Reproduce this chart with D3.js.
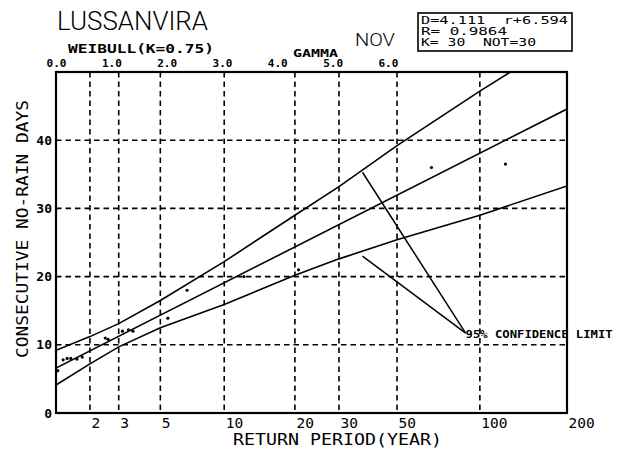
<!DOCTYPE html>
<html>
<head>
<meta charset="utf-8">
<script src="https://cdn.jsdelivr.net/npm/d3@7"></script>
<style>
  html, body { margin: 0; padding: 0; background: #fff; }
  svg { display: block; }
  text { font-family: "DejaVu Sans Mono", monospace; fill: #000; }
</style>
</head>
<body>
<svg id="chart" width="626" height="455"></svg>
<script>
// Return periods (years) marked on the lower axis and drawn as grid lines
const gridPeriods = [2, 3, 5, 10, 20, 30, 50, 100];
const bottomTickLabels = [2, 3, 5, 10, 20, 30, 50, 100, 200];
// Weibull reduced variate ticks on the upper axis
const topTicks = [0, 1, 2, 3, 4, 5, 6];
// Value axis ticks (days)
const valueTicks = [0, 10, 20, 30, 40];
const valueGrid = [10, 20, 30, 40];

// Observed consecutive no-rain days at their plotting return periods
const obsPeriods = [1.08, 1.24, 1.35, 1.45, 1.62, 1.77, 2.5, 2.6, 3.15, 3.4, 3.6, 5.45, 6.75, 12.2, 20.7, 67, 123];
const obsDays    = [6.2, 7.8, 8.0, 8.0, 7.9, 8.2, 11.0, 10.8, 12.0, 12.2, 12.0, 13.9, 18.0, 20.0, 21.0, 36.0, 36.5];

// Fitted Weibull line parameters (slope and location on the reduced variate)
const fitSlope = 4.111;
const fitLocation = 6.594;
const fitCorr = 0.9864;
const fitPeriods = [1, 200];

// 95% confidence limits
const upperPeriods = [1, 2, 3, 5, 10, 20, 30, 50, 100, 128];
const upperDays    = [9.2, 11.2, 13.1, 16.5, 22.2, 29.0, 33.2, 39.2, 47.2, 50.0];
const lowerPeriods = [1, 2, 3, 5, 10, 20, 30, 50, 100, 200];
const lowerDays    = [4.1, 7.2, 9.7, 12.5, 15.9, 20.2, 22.6, 25.4, 29.0, 33.3];

// Leader lines of the confidence-limit note: [period, days]
const noteAnchor = [89, 11.7];
const noteTargets = [[37, 35.3], [37, 23.0]];

const K = 0.75;
const reduced = T => Math.pow(Math.log(T), 1 / K);

const svg = d3.select("#chart");
const plotLeft = 56, plotRight = 567, plotTop = 72, plotBottom = 413;

const x = d3.scaleLinear().domain([0, reduced(200)]).range([plotLeft, plotRight]);
const y = d3.scaleLinear().domain([0, 50]).range([plotBottom, plotTop]);
const xT = T => x(reduced(T));

// Grid
const grid = svg.append("g")
  .attr("stroke", "#000").attr("stroke-width", 1.6).attr("stroke-dasharray", "5.5,4");
grid.selectAll("line.v").data(gridPeriods).join("line").attr("class", "v")
  .attr("x1", d => xT(d)).attr("x2", d => xT(d)).attr("y1", plotTop).attr("y2", plotBottom);
grid.selectAll("line.h").data(valueGrid).join("line").attr("class", "h")
  .attr("x1", plotLeft).attr("x2", plotRight).attr("y1", d => y(d)).attr("y2", d => y(d));

// Axes
const bottomAxis = d3.axisBottom(x)
  .tickValues(bottomTickLabels.map(reduced))
  .tickFormat((d, i) => bottomTickLabels[i])
  .tickSize(0).tickPadding(5);
const gB = svg.append("g").attr("transform", `translate(0,${plotBottom})`).call(bottomAxis);
gB.select(".domain").remove();
gB.selectAll("text").attr("text-anchor", "start").attr("dx", 1)
  .style("font-size", "14.5px").style("font-family", "DejaVu Sans Mono");

const topAxis = d3.axisTop(x).tickValues(topTicks).tickFormat(d3.format(".1f"))
  .tickSize(0).tickPadding(5);
const gT = svg.append("g").attr("transform", `translate(0,${plotTop})`).call(topAxis);
gT.select(".domain").remove();
gT.selectAll("text").style("font-size", "11px").style("font-family", "DejaVu Sans Mono")
  .style("font-weight", "bold");

const leftAxis = d3.axisLeft(y).tickValues(valueTicks).tickSize(0).tickPadding(4);
const gL = svg.append("g").attr("transform", `translate(${plotLeft},0)`).call(leftAxis);
gL.select(".domain").remove();
gL.selectAll("text").style("font-size", "13px").style("font-family", "DejaVu Sans Mono")
  .style("font-weight", "bold");

// Frame
svg.append("rect").attr("x", plotLeft).attr("y", plotTop)
  .attr("width", plotRight - plotLeft).attr("height", plotBottom - plotTop)
  .attr("fill", "none").attr("stroke", "#000").attr("stroke-width", 2.2);

// Clip for curves
svg.append("clipPath").attr("id", "plotclip").append("rect")
  .attr("x", plotLeft).attr("y", plotTop).attr("width", plotRight - plotLeft).attr("height", plotBottom - plotTop);

const line = d3.line().x(d => xT(d[0])).y(d => y(d[1]));
const curves = svg.append("g").attr("clip-path", "url(#plotclip)")
  .attr("fill", "none").attr("stroke", "#000").attr("stroke-width", 1.6);

curves.append("path").datum(upperPeriods.map((p, i) => [p, upperDays[i]])).attr("d", line);
curves.append("path").datum(lowerPeriods.map((p, i) => [p, lowerDays[i]])).attr("d", line);
curves.append("path").datum(fitPeriods.map(p => [p, fitSlope * reduced(p) + fitLocation])).attr("d", line);

// Observations
svg.append("g").selectAll("circle").data(obsPeriods).join("circle")
  .attr("cx", d => xT(d)).attr("cy", (d, i) => y(obsDays[i])).attr("r", 1.6).attr("fill", "#000");

// Confidence-limit note
svg.append("g").attr("stroke", "#000").attr("stroke-width", 1.5)
  .selectAll("line").data(noteTargets).join("line")
  .attr("x1", xT(noteAnchor[0])).attr("y1", y(noteAnchor[1]))
  .attr("x2", d => xT(d[0])).attr("y2", d => y(d[1]));
svg.append("text").attr("x", xT(noteAnchor[0])).attr("y", y(noteAnchor[1]) + 5)
  .attr("textLength", 147).attr("lengthAdjust", "spacingAndGlyphs")
  .style("font-size", "10.5px").style("font-weight", "bold").text("95% CONFIDENCE LIMIT");

// Titles
svg.append("text").attr("x", 57).attr("y", 30)
  .attr("textLength", 151).attr("lengthAdjust", "spacingAndGlyphs")
  .style("font-family", "Roboto").style("font-weight", 300).style("font-size", "25px")
  .text("LUSSANVIRA");
svg.append("text").attr("x", 355).attr("y", 46)
  .attr("textLength", 40).attr("lengthAdjust", "spacingAndGlyphs")
  .style("font-family", "Roboto").style("font-weight", 300).style("font-size", "18.5px")
  .text("NOV");
svg.append("text").attr("x", 68).attr("y", 53)
  .attr("textLength", 146).attr("lengthAdjust", "spacingAndGlyphs")
  .style("font-size", "12.5px").style("font-weight", "bold").text("WEIBULL(K=0.75)");
svg.append("text").attr("x", 293).attr("y", 57)
  .attr("textLength", 45).attr("lengthAdjust", "spacingAndGlyphs")
  .style("font-size", "11px").style("font-weight", "bold").text("GAMMA");

svg.append("text").attr("x", 233).attr("y", 445)
  .attr("textLength", 209).attr("lengthAdjust", "spacingAndGlyphs")
  .style("font-size", "15px").text("RETURN PERIOD(YEAR)");
svg.append("text").attr("transform", "translate(28,229) rotate(-90)")
  .attr("text-anchor", "middle")
  .attr("textLength", 258).attr("lengthAdjust", "spacingAndGlyphs")
  .style("font-size", "15px").text("CONSECUTIVE NO-RAIN DAYS");

// Parameter box
svg.append("rect").attr("x", 418).attr("y", 13).attr("width", 154).attr("height", 38)
  .attr("fill", "none").attr("stroke", "#000").attr("stroke-width", 1.6);
const boxLines = [
  {t: `D=${fitSlope}  r+${fitLocation}`, y: 24, w: 147},
  {t: `R= ${fitCorr}`, y: 35, w: 86},
  {t: "K= 30  NOT=30", y: 46, w: 115}
];
svg.append("g").selectAll("text").data(boxLines).join("text")
  .attr("x", 421).attr("y", d => d.y)
  .attr("textLength", d => d.w).attr("lengthAdjust", "spacingAndGlyphs")
  .style("font-size", "10.5px").style("white-space", "pre")
  .text(d => d.t);
</script>
</body>
</html>
